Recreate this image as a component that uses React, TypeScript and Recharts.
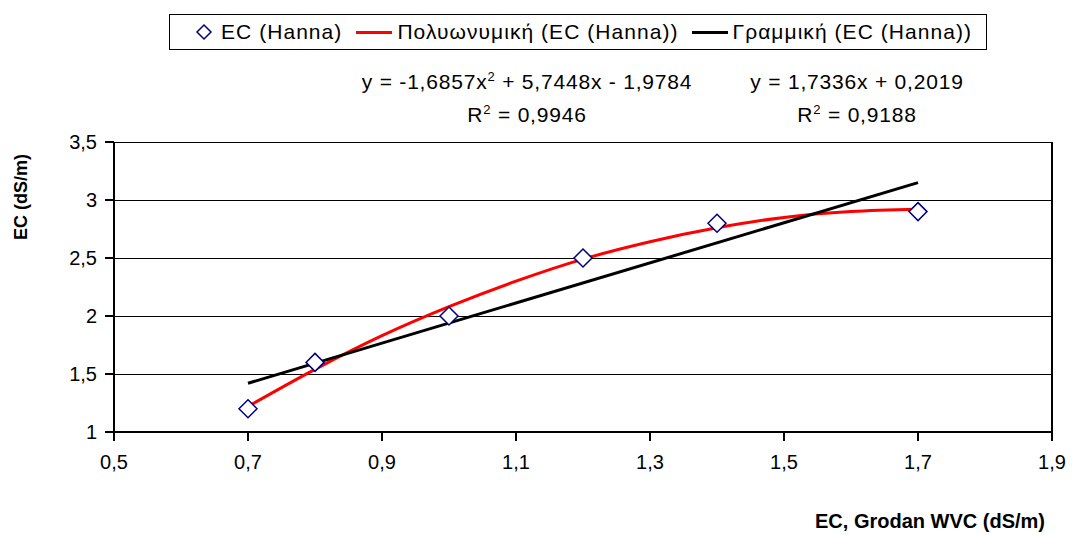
import { ComposedChart, Scatter, Line, XAxis, YAxis, CartesianGrid, ReferenceLine, Customized } from 'recharts';

// measured points
const hannaX = [0.7, 0.8, 1.0, 1.2, 1.4, 1.7];
const hannaY = [1.2, 1.6, 2.0, 2.5, 2.8, 2.9];

// polynomial trendline
const polyX = [0.7, 0.8, 0.9, 1.0, 1.1, 1.2, 1.3, 1.4, 1.5, 1.6, 1.7];
const polyY = [1.22, 1.54, 1.83, 2.08, 2.3, 2.49, 2.64, 2.76, 2.85, 2.9, 2.92];

// linear trendline end points
const linX = [0.7, 1.7];
const linY = [1.42, 3.15];

const xTicks = [0.5, 0.7, 0.9, 1.1, 1.3, 1.5, 1.7, 1.9];
const yTicks = [1, 1.5, 2, 2.5, 3, 3.5];

const hanna = hannaX.map((x, i) => ({ x, y: hannaY[i] }));
const poly = polyX.map((x, i) => ({ x, y: polyY[i] }));
const lin = linX.map((x, i) => ({ x, y: linY[i] }));

const FONT = '"Liberation Sans", Arial, sans-serif';
const fmt = (v: number) => String(v).replace('.', ',');

const Diamond = (props: any) => {
  const { cx, cy } = props;
  const r = 9;
  return (
    <path
      d={`M${cx},${cy - r} L${cx + r},${cy} L${cx},${cy + r} L${cx - r},${cy} Z`}
      fill="#fff"
      stroke="#000080"
      strokeWidth={1.5}
    />
  );
};

// legend drawn as a plain box above the chart
const LegendBox = () => (
  <div style={{
    position: 'absolute', left: 169, top: 14,
    border: '1px solid #000', width: 818, height: 36, boxSizing: 'border-box',
    display: 'flex', alignItems: 'center', fontFamily: FONT, fontSize: 21, letterSpacing: 1.05, color: '#000',
    whiteSpace: 'nowrap', background: '#fff',
  }}>
    <svg width={18} height={18} style={{ marginLeft: 25 }}>
      <path d="M9,2 L16,9 L9,16 L2,9 Z" fill="#fff" stroke="#000080" strokeWidth={1.5} />
    </svg>
    <span style={{ marginLeft: 8 }}>EC (Hanna)</span>
    <span style={{ display: 'inline-block', width: 36, height: 3, background: '#ff0000', marginLeft: 14 }} />
    <span style={{ marginLeft: 5 }}>Πολυωνυμική (EC (Hanna))</span>
    <span style={{ display: 'inline-block', width: 36, height: 3, background: '#000', marginLeft: 13 }} />
    <span style={{ marginLeft: 5 }}>Γραμμική (EC (Hanna))</span>
  </div>
);

const Labels = () => (
  <g fontFamily={FONT} fill="#000">
    <text x={527} y={89} fontSize={21} letterSpacing={0.8} textAnchor="middle">
      y = -1,6857x<tspan dy={-8} fontSize={13}>2</tspan><tspan dy={8}> + 5,7448x - 1,9784</tspan>
    </text>
    <text x={527} y={122} fontSize={21} letterSpacing={0.8} textAnchor="middle">
      R<tspan dy={-8} fontSize={13}>2</tspan><tspan dy={8}> = 0,9946</tspan>
    </text>
    <text x={857} y={89} fontSize={21} letterSpacing={0.8} textAnchor="middle">y = 1,7336x + 0,2019</text>
    <text x={857} y={122} fontSize={21} letterSpacing={0.8} textAnchor="middle">
      R<tspan dy={-8} fontSize={13}>2</tspan><tspan dy={8}> = 0,9188</tspan>
    </text>
    <text x={27} y={197} fontSize={18} fontWeight="bold" textAnchor="middle" transform="rotate(-90 27 197)">EC (dS/m)</text>
    <text x={1045} y={528} fontSize={20} fontWeight="bold" textAnchor="end">EC, Grodan WVC (dS/m)</text>
  </g>
);

export default function App() {
  return (
    <div style={{ position: 'absolute', left: 0, top: 0, width: 1072, height: 535, background: '#fff' }}>
      <ComposedChart width={1072} height={535} margin={{ top: 142, right: 20, bottom: 0, left: 0 }}>
        <CartesianGrid vertical={false} stroke="#000" strokeWidth={1} shapeRendering="crispEdges" />
        <XAxis
          type="number" dataKey="x" domain={[0.5, 1.9]} ticks={xTicks} tickFormatter={fmt}
          stroke="#000" strokeWidth={2} tickSize={9} tickMargin={14} allowDataOverflow
          tick={{ fill: '#000', fontSize: 20, fontFamily: FONT }} height={103}
        />
        <YAxis
          type="number" dataKey="y" domain={[1, 3.5]} ticks={yTicks} tickFormatter={fmt}
          stroke="#000" strokeWidth={2} tickSize={9} tickMargin={8} width={114}
          tick={{ fill: '#000', fontSize: 20, fontFamily: FONT }}
        />
        <ReferenceLine x={1.9} stroke="#000" strokeWidth={2} />
        <Line data={poly} dataKey="y" type="monotone" stroke="#ff0000" strokeWidth={3} dot={false} isAnimationActive={false} />
        <Line data={lin} dataKey="y" type="linear" stroke="#000" strokeWidth={3} dot={false} isAnimationActive={false} />
        <Scatter data={hanna} dataKey="y" shape={Diamond} isAnimationActive={false} />
        <Customized component={Labels} />
      </ComposedChart>
      <LegendBox />
    </div>
  );
}
